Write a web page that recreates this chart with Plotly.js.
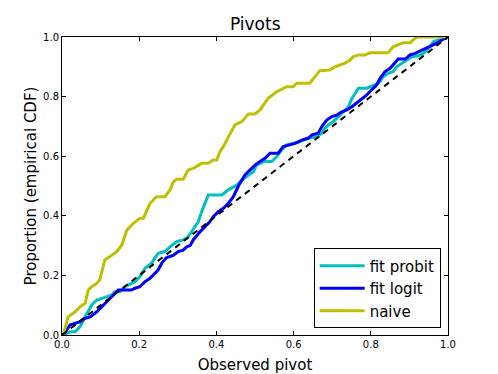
<!DOCTYPE html>
<html>
<head>
<meta charset="utf-8">
<script src="https://cdn.plot.ly/plotly-3.0.1.min.js"></script>
<style>html,body{margin:0;padding:0;background:#fff;}#chart{width:498px;height:374px;}</style>
</head>
<body>
<div id="chart"></div>
<script>
// fit probit
const probitX = [0.003,0.021,0.034,0.047,0.055,0.064,0.077,0.090,0.103,0.116,0.129,0.137,0.150,0.163,0.172,0.189,0.202,0.215,0.232,0.249,0.267,0.280,0.297,0.314,0.327,0.345,0.353,0.362,0.370,0.379,0.414,0.431,0.453,0.466,0.483,0.496,0.504,0.522,0.543,0.556,0.569,0.582,0.599,0.617,0.634,0.660,0.673,0.681,0.690,0.703,0.716,0.729,0.742,0.751,0.759,0.768,0.789,0.798,0.811,0.824,0.832,0.845,0.858,0.867,0.880,0.893,0.906,0.923,0.936,0.945,0.953,0.962,0.975,0.988,1.0];
const probitY = [0,0.011,0.011,0.028,0.050,0.073,0.101,0.117,0.123,0.129,0.134,0.145,0.145,0.162,0.168,0.179,0.196,0.224,0.241,0.274,0.280,0.296,0.313,0.319,0.330,0.363,0.380,0.414,0.442,0.470,0.470,0.487,0.503,0.520,0.537,0.548,0.570,0.582,0.582,0.598,0.621,0.638,0.643,0.649,0.660,0.665,0.677,0.694,0.705,0.716,0.733,0.749,0.766,0.794,0.811,0.828,0.828,0.833,0.839,0.850,0.867,0.878,0.884,0.900,0.912,0.923,0.934,0.937,0.945,0.956,0.967,0.984,0.990,0.993,1.0];
// fit logit
const logitX = [0.003,0.021,0.034,0.047,0.060,0.073,0.090,0.107,0.124,0.137,0.146,0.180,0.189,0.202,0.215,0.228,0.241,0.249,0.259,0.271,0.288,0.301,0.314,0.323,0.332,0.340,0.358,0.370,0.383,0.392,0.405,0.418,0.431,0.444,0.457,0.474,0.487,0.500,0.513,0.526,0.539,0.560,0.573,0.591,0.604,0.621,0.638,0.647,0.664,0.674,0.686,0.699,0.712,0.725,0.738,0.751,0.763,0.776,0.789,0.802,0.815,0.824,0.837,0.850,0.863,0.871,0.889,0.902,0.915,0.932,0.949,0.962,0.975,0.988,1.0];
const logitY = [0,0.034,0.039,0.045,0.056,0.061,0.078,0.101,0.123,0.140,0.151,0.151,0.157,0.162,0.179,0.190,0.207,0.218,0.242,0.260,0.267,0.280,0.285,0.296,0.300,0.319,0.347,0.363,0.380,0.397,0.414,0.425,0.442,0.464,0.500,0.537,0.554,0.570,0.582,0.593,0.610,0.610,0.632,0.638,0.643,0.654,0.660,0.671,0.678,0.701,0.721,0.733,0.738,0.749,0.755,0.766,0.778,0.794,0.805,0.822,0.839,0.861,0.884,0.895,0.912,0.926,0.926,0.940,0.945,0.956,0.967,0.973,0.982,0.993,1.0];
// naive
const naiveX = [0.003,0.016,0.034,0.047,0.060,0.068,0.077,0.090,0.098,0.111,0.124,0.142,0.155,0.168,0.185,0.202,0.211,0.228,0.245,0.267,0.280,0.288,0.297,0.314,0.327,0.340,0.362,0.379,0.392,0.401,0.409,0.418,0.431,0.448,0.466,0.483,0.500,0.513,0.522,0.534,0.556,0.569,0.582,0.599,0.608,0.642,0.655,0.668,0.694,0.707,0.720,0.733,0.746,0.755,0.768,0.785,0.798,0.845,0.858,0.871,0.884,0.902,0.915,0.923,1.0];
const naiveY = [0,0.061,0.078,0.095,0.106,0.151,0.162,0.173,0.185,0.252,0.263,0.280,0.302,0.352,0.375,0.392,0.392,0.442,0.464,0.464,0.487,0.513,0.523,0.523,0.554,0.559,0.576,0.576,0.587,0.587,0.615,0.632,0.665,0.705,0.716,0.742,0.742,0.755,0.772,0.794,0.816,0.824,0.833,0.833,0.845,0.845,0.867,0.887,0.889,0.900,0.906,0.912,0.923,0.934,0.940,0.940,0.947,0.947,0.967,0.973,0.981,0.981,0.996,1.0,1.0];
// reference diagonal
const diagX = [0, 1];
const diagY = [0, 1];
const tickVals = [0, 0.2, 0.4, 0.6, 0.8, 1.0];
const tickText = ["0.0", "0.2", "0.4", "0.6", "0.8", "1.0"];

const font = "DejaVu Sans, sans-serif";
const traces = [
  {x: probitX, y: probitY, mode: "lines", name: "fit probit", line: {color: "#00BFBF", width: 3}},
  {x: logitX, y: logitY, mode: "lines", name: "fit logit", line: {color: "#0000FF", width: 3}},
  {x: naiveX, y: naiveY, mode: "lines", name: "naive", line: {color: "#BFBF00", width: 3}},
  {x: diagX, y: diagY, mode: "lines", showlegend: false, line: {color: "#000000", width: 2, dash: "6px,5px"}}
];
const axisCommon = {
  range: [0, 1], tickvals: tickVals, ticktext: tickText,
  ticks: "inside", ticklen: 4, tickwidth: 1, tickcolor: "#000",
  showline: true, linecolor: "#000", linewidth: 1, mirror: "ticks",
  showgrid: false, zeroline: false,
  tickfont: {family: font, size: 10, color: "#000"}
};
const layout = {
  width: 498, height: 374,
  margin: {l: 62, r: 50, t: 37, b: 39},
  paper_bgcolor: "#fff", plot_bgcolor: "#fff",
  title: {text: "Pivots", font: {family: font, size: 17, color: "#000"}, x: 0.5125, xanchor: "center", y: 0.935, yanchor: "middle"},
  xaxis: Object.assign({}, axisCommon, {title: {text: "Observed pivot", font: {family: font, size: 15, color: "#000"}, standoff: 10}}),
  yaxis: Object.assign({}, axisCommon, {title: {text: "Proportion (empirical CDF)", font: {family: font, size: 15, color: "#000"}, standoff: 2}}),
  legend: {x: 0.981, y: 0.022, xanchor: "right", yanchor: "bottom", bordercolor: "#000", borderwidth: 1, bgcolor: "#fff",
    font: {family: font, size: 15, color: "#000"}, tracegroupgap: 0, itemwidth: 45},
  showlegend: true
};
Plotly.newPlot("chart", traces, layout, {displayModeBar: false, staticPlot: true});
</script>
</body>
</html>
